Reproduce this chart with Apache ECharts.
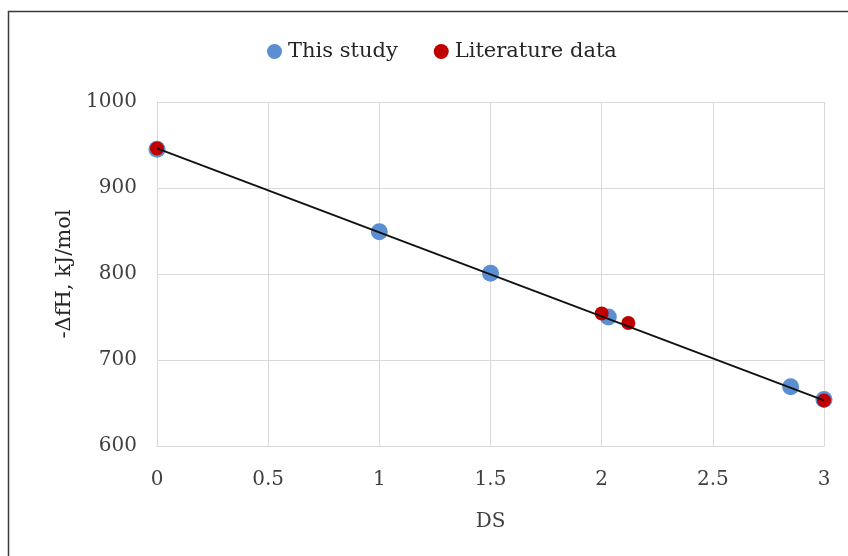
<!DOCTYPE html>
<html>
<head>
<meta charset="utf-8">
<script src="https://cdn.jsdelivr.net/npm/echarts@6/dist/echarts.min.js"></script>
<style>
  html, body { margin: 0; padding: 0; background: #fff; }
  #main { width: 848px; height: 556px; }
</style>
</head>
<body>
<div id="main"></div>
<script>
// data
var thisStudyDS = [0, 1.0, 1.5, 2.03, 2.85, 3.0];
var thisStudyH = [945, 849, 801, 750, 669, 654];
var literatureDS = [0, 2.0, 2.12, 3.0];
var literatureH = [946, 754, 743, 653];
var trendDS = [0, 3];
var trendH = [946, 653];

function pairs(xs, ys) {
  var out = [];
  for (var i = 0; i < xs.length; i++) out.push([xs[i], ys[i]]);
  return out;
}

var font = "'DejaVu Serif', 'Liberation Serif', serif";
var myChart = echarts.init(document.getElementById("main"));

var option = {
  animation: false,
  backgroundColor: "#fff",
  textStyle: { fontFamily: font },
  graphic: [
    {
      type: "polyline",
      shape: { points: [[8.5, 556], [8.5, 11.5], [848, 11.5]] },
      style: { stroke: "#3a3a3a", lineWidth: 1.5, fill: null },
      silent: true
    }
  ],
  legend: {
    top: 36,
    left: 262,
    itemGap: 36,
    itemWidth: 15,
    itemHeight: 15,
    textStyle: { fontFamily: font, fontSize: 21, color: "#262626", padding: [0, 0, 0, 1] },
    data: [
      { name: "This study", icon: "circle" },
      { name: "Literature data", icon: "circle" }
    ]
  },
  grid: { left: 157, right: 24, top: 102, bottom: 110 },
  xAxis: {
    type: "value",
    min: 0,
    max: 3,
    interval: 0.5,
    name: "DS",
    nameLocation: "middle",
    nameGap: 66,
    nameTextStyle: { fontFamily: font, fontSize: 20, color: "#404040" },
    axisLine: { show: true, lineStyle: { color: "#d9d9d9" } },
    axisTick: { show: false },
    axisLabel: { fontFamily: font, fontSize: 20, color: "#404040", margin: 24 },
    splitLine: { show: true, lineStyle: { color: "#d9d9d9", width: 1 } }
  },
  yAxis: {
    type: "value",
    min: 600,
    max: 1000,
    interval: 100,
    name: "-ΔfH, kJ/mol",
    nameLocation: "middle",
    nameGap: 82,
    nameTextStyle: { fontFamily: font, fontSize: 21, color: "#262626" },
    axisLine: { show: true, lineStyle: { color: "#d9d9d9" } },
    axisTick: { show: false },
    axisLabel: {
      fontFamily: font, fontSize: 20, color: "#404040", margin: 20,
      formatter: function (v) { return String(v); }
    },
    splitLine: { show: true, lineStyle: { color: "#d9d9d9", width: 1 } }
  },
  series: [
    {
      name: "This study",
      type: "scatter",
      symbolSize: 17,
      itemStyle: { color: "#5b8fd1", opacity: 1 },
      data: pairs(thisStudyDS, thisStudyH),
      z: 2
    },
    {
      name: "Literature data",
      type: "scatter",
      symbolSize: 14,
      itemStyle: { color: "#c00000", opacity: 1 },
      data: pairs(literatureDS, literatureH),
      z: 3
    },
    {
      name: "trend",
      type: "line",
      showSymbol: false,
      symbol: "none",
      lineStyle: { color: "#111", width: 1.8 },
      data: pairs(trendDS, trendH),
      z: 4
    }
  ]
};

myChart.setOption(option);
</script>
</body>
</html>
